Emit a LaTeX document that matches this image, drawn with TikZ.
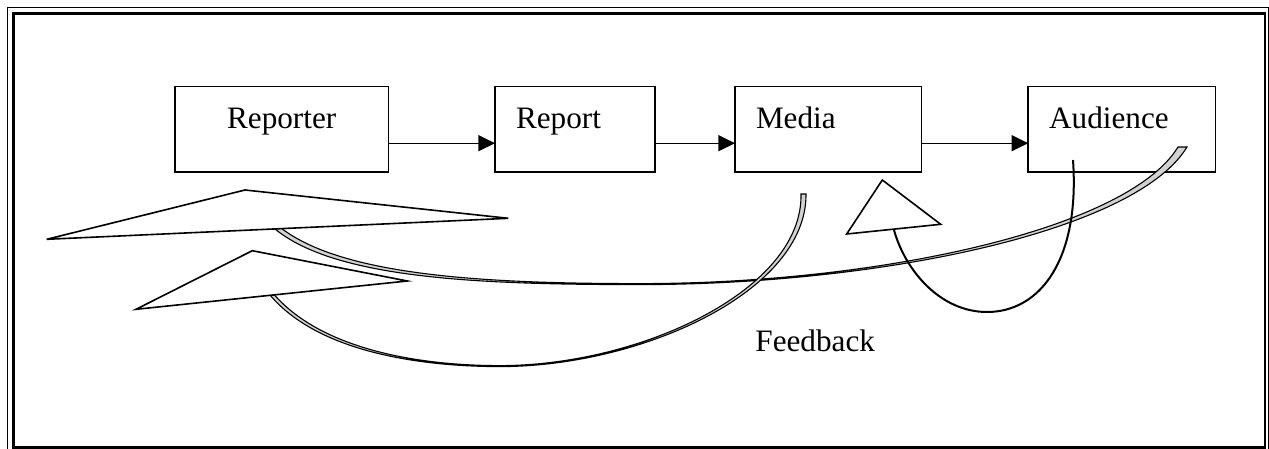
\documentclass[tikz,border=0pt]{standalone}
\usepackage{fontspec}
\setmainfont{Liberation Serif}
\usetikzlibrary{positioning,arrows.meta}
\tikzset{
  news box/.style={
    draw,
    line width=0.8pt,
    outer sep=0pt,
    minimum width={#1},
    minimum height={42.5pt},
  },
  box label/.style={
    anchor=base west,
    inner sep=0pt,
    font=\fontsize{15.6}{18}\selectfont,
  },
  flow arrow/.style={
    line width=0.6pt,
    -{Triangle[length=8.3pt,width=8pt]},
  },
  feedback band/.style={
    draw,
    line width=0.55pt,
    fill=gray!35,
  },
  feedback head/.style={
    draw,
    line width=0.8pt,
    fill=white,
  }
}

\begin{document}
\begin{tikzpicture}[x=0.5pt, y=-0.5pt]
        \useasboundingbox (0,0) rectangle (1269,449);
        \draw [line width=0.85pt] (7.5,7.5) rectangle (1268.5,450.5);
        \draw [line width=1.35pt] (13.7,13.8) rectangle (1265,447.7);

        \node [news box=106.7pt] (reporter) at (281.7,129.2) {};
        \node [news box=80pt, right=53.3pt of reporter] (report) {};
        \node [news box=93.3pt, right=40pt of report] (media) {};
        \node [news box=93.7pt, right=53.3pt of media] (audience) {};

        \node [box label, anchor=base] at ([yshift=0.45pt]reporter.center) {Reporter};
        \node [box label] at ([xshift=10.3pt, yshift=0.45pt]report.west) {Report};
        \node [box label] at ([xshift=10.3pt, yshift=0.45pt]media.west) {Media};
        \node [box label] at ([xshift=10.3pt, yshift=0.45pt]audience.west) {Audience};
        \node [box label] (feedback) at (755,351.7) {Feedback};

        \draw [flow arrow] ([yshift=-7pt]reporter.east) -- ([yshift=-7pt]report.west);
        \draw [flow arrow] ([yshift=-7pt]report.east) -- ([yshift=-7pt]media.west);
        \draw [flow arrow] ([yshift=-7pt]media.east) -- ([yshift=-7pt]audience.west);

        \draw [feedback band] (275,229) .. controls (336,279) and (480,284.6) .. (640,284.6)
          .. controls (882,284.6) and (1136,231) .. (1187,147) -- (1178,147)
          .. controls (1128,229) and (880,283.6) .. (640,283.6)
          .. controls (480,283.6) and (342,275) .. (281,228) -- cycle;
        \draw [feedback band] (270,295) .. controls (318,352) and (420,366.6) .. (500,366.6)
          .. controls (642,366.6) and (807,291) .. (806,194) -- (801,194)
          .. controls (803,290) and (640,365.6) .. (500,365.6)
          .. controls (420,365.6) and (323,350) .. (274.5,295) -- cycle;
        \draw [line width=1pt] (1073,160) .. controls (1080,260) and (1040,312) .. (987,312)
          .. controls (940,312) and (905,270) .. (894,230);

        \draw [feedback head] (245,190) -- (508.3,218.3) -- (46.7,239.3) -- cycle;
        \draw [feedback head] (252.3,250.7) -- (407.3,281) -- (136,309.3) -- cycle;
        \draw [feedback head] (882.3,180) -- (940.7,224.3) -- (846.7,234) -- cycle;
      \end{tikzpicture}
\end{document}
